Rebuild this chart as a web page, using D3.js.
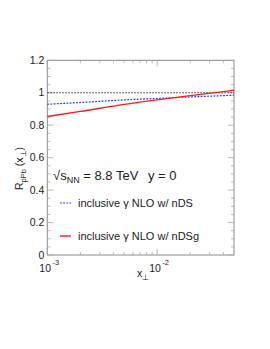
<!DOCTYPE html>
<html><head><meta charset="utf-8">
<script src="https://cdn.jsdelivr.net/npm/d3@7"></script>
<style>body{margin:0;background:#fff}svg{display:block;font-family:"Liberation Sans",Arial,sans-serif}</style>
</head><body><svg id="c" width="270" height="349"></svg>
<script>
// data
const xPoints = [0.001, 0.002, 0.005, 0.01, 0.02, 0.05];
const nDS  = [0.929, 0.940, 0.956, 0.965, 0.974, 0.985];
const nDSg = [0.854, 0.885, 0.928, 0.956, 0.982, 1.015];
const refLine = [1, 1];
const yTickValues = [0, 0.2, 0.4, 0.6, 0.8, 1, 1.2];
const yTickLabels = ["0", "0.2", "0.4", "0.6", "0.8", "1", "1.2"];
const xMajorTicks = [0.001, 0.01];
const xMajorExp = ["-3", "-2"];
const legendLabels = ["inclusive γ NLO w/ nDS", "inclusive γ NLO w/ nDSg"];

const svg = d3.select("#c");
const L = 47.3, R = 234, T = 60.3, B = 255;
const x = d3.scaleLog().domain([0.001, 0.05]).range([L, R]);
const y = d3.scaleLinear().domain([0, 1.2]).range([B, T]);
const axisCol = "#8a8a8a", tickCol = "#a8a8a8", textCol = "#222";

// frame
svg.append("rect").attr("x", L).attr("y", T).attr("width", R - L).attr("height", B - T)
  .attr("fill", "none").attr("stroke", axisCol).attr("stroke-width", 1);

// x ticks (log minor)
const xMinor = [];
[0.001, 0.01].forEach(d => { for (let k = 2; k <= 9; k++) { const v = d * k; if (v < 0.05) xMinor.push(v); } });
const tk = svg.append("g").attr("stroke", tickCol).attr("stroke-width", 0.8);
xMinor.forEach(v => {
  tk.append("line").attr("x1", x(v)).attr("x2", x(v)).attr("y1", B).attr("y2", B - 3);
  tk.append("line").attr("x1", x(v)).attr("x2", x(v)).attr("y1", T).attr("y2", T + 3);
});
xMajorTicks.forEach(v => {
  tk.append("line").attr("x1", x(v)).attr("x2", x(v)).attr("y1", B).attr("y2", B - 6);
  tk.append("line").attr("x1", x(v)).attr("x2", x(v)).attr("y1", T).attr("y2", T + 6);
});
// y ticks
d3.range(0, 1.2001, 0.05).forEach(v => {
  const major = Math.abs(v * 5 - Math.round(v * 5)) < 1e-6;
  const len = major ? 6 : 3;
  tk.append("line").attr("x1", L).attr("x2", L + len).attr("y1", y(v)).attr("y2", y(v));
  tk.append("line").attr("x1", R).attr("x2", R - len).attr("y1", y(v)).attr("y2", y(v));
});

// y tick labels
svg.append("g").selectAll("text").data(yTickValues).join("text")
  .attr("x", L - 3).attr("y", d => y(d) + 3.5).attr("text-anchor", "end")
  .attr("font-size", 10.5).attr("fill", textCol).text((d, i) => yTickLabels[i]);

// x tick labels
xMajorTicks.forEach((v, i) => {
  const t = svg.append("text").attr("x", x(v) - 8).attr("y", 272).attr("font-size", 10.5).attr("fill", textCol);
  t.append("tspan").text("10");
  t.append("tspan").attr("dx", 1.5).attr("dy", -7).attr("font-size", 7.5).text(xMajorExp[i]);
});

// axis titles
const xt = svg.append("text").attr("x", 137).attr("y", 277).attr("font-size", 10.5).attr("fill", textCol);
xt.append("tspan").text("x");
xt.append("tspan").attr("dy", 3).attr("font-size", 7.5).text("⊥");

const yt = svg.append("text").attr("transform", "translate(23,190) rotate(-90)").attr("font-size", 10.5).attr("fill", textCol);
yt.append("tspan").text("R");
yt.append("tspan").attr("dy", 3).attr("font-size", 7.5).text("pPb");
yt.append("tspan").attr("dy", -3).text(" (x");
yt.append("tspan").attr("dy", 3).attr("font-size", 7.5).text("⊥");
yt.append("tspan").attr("dy", -3).text(")");

// lines
const line = d3.line().x(d => x(d[0])).y(d => y(d[1]));
svg.append("path").datum(x.domain().map((d, i) => [d, refLine[i]])).attr("d", line)
  .attr("fill", "none").attr("stroke", "#333").attr("stroke-width", 1.1).attr("stroke-dasharray", "1.5,1.5");
svg.append("path").datum(xPoints.map((d, i) => [d, nDS[i]])).attr("d", line.curve(d3.curveMonotoneX))
  .attr("fill", "none").attr("stroke", "#2233ff").attr("stroke-width", 1.2).attr("stroke-dasharray", "1.8,1.4");
svg.append("path").datum(xPoints.map((d, i) => [d, nDSg[i]])).attr("d", line.curve(d3.curveMonotoneX))
  .attr("fill", "none").attr("stroke", "#ff1a1a").attr("stroke-width", 1.4);

// annotation
const an = svg.append("text").attr("x", 53).attr("y", 180).attr("font-size", 13).attr("fill", textCol);
an.append("tspan").text("√s");
an.append("tspan").attr("dy", 3).attr("font-size", 9).text("NN");
an.append("tspan").attr("dy", -3).text(" = 8.8 TeV");
svg.append("text").attr("x", 148).attr("y", 180).attr("font-size", 13).attr("fill", textCol).text("y = 0");

// legend
const legY = [203, 236];
svg.append("line").attr("x1", 60).attr("x2", 71).attr("y1", legY[0]).attr("y2", legY[0])
  .attr("stroke", "#2233ff").attr("stroke-width", 1.2).attr("stroke-dasharray", "1.8,1.4");
svg.append("line").attr("x1", 60).attr("x2", 71).attr("y1", legY[1]).attr("y2", legY[1])
  .attr("stroke", "#ff1a1a").attr("stroke-width", 1.4);
legendLabels.forEach((t, i) => svg.append("text").attr("x", 78).attr("y", legY[i] + 4)
  .attr("font-size", 11).attr("fill", textCol).text(t));
</script></body></html>
